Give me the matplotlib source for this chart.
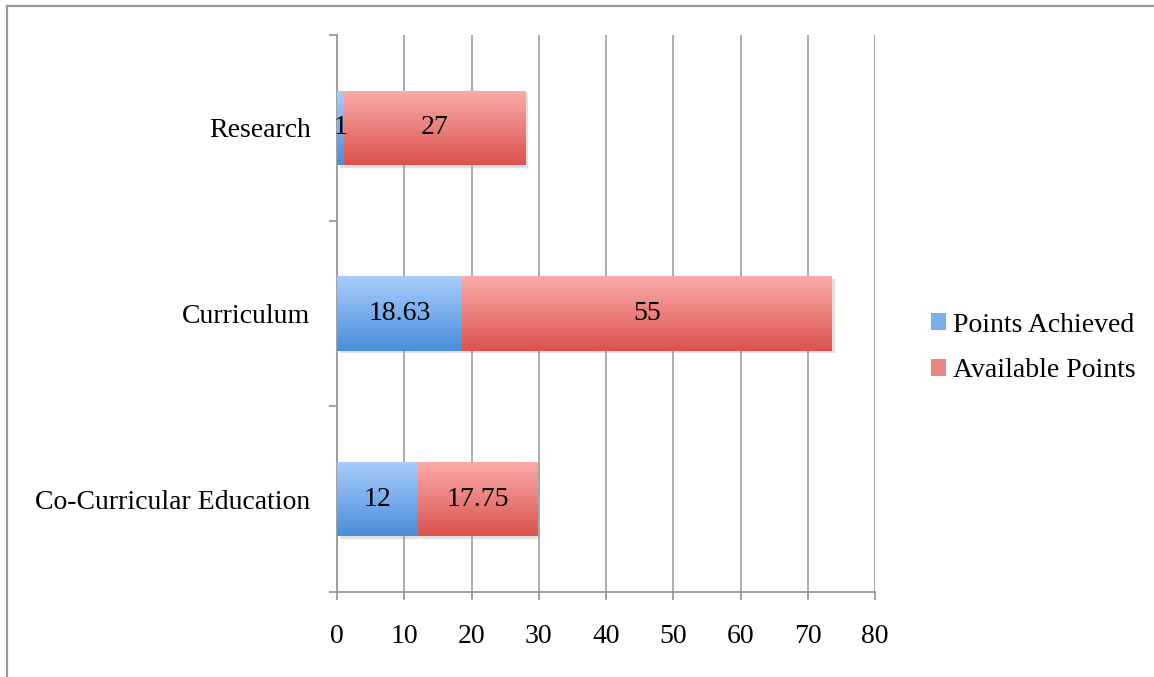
import numpy as np
import matplotlib.pyplot as plt
import matplotlib.patheffects as pe
from matplotlib.colors import LinearSegmentedColormap
from matplotlib.lines import Line2D
from matplotlib.patches import Patch

plt.rcParams['font.family'] = ['Liberation Serif', 'DejaVu Serif']

# datos
categorias = ['Co-Curricular Education', 'Curriculum', 'Research']
puntos_logrados = [12, 18.63, 1]
puntos_disponibles = [17.75, 55, 27]
etiquetas_logrados = ['12', '18.63', '1']
etiquetas_disponibles = ['17.75', '55', '27']
series = ['Points Achieved', 'Available Points']

azul = LinearSegmentedColormap.from_list('azul', ['#4a8edb', '#a9cdfd'])
rojo = LinearSegmentedColormap.from_list('rojo', ['#da534e', '#fcacaa'])

fig = plt.figure(figsize=(11.54, 6.77), dpi=100)
ax = fig.add_axes([337/1154, 1-592/677, 538/1154, 557/677])

# marco exterior
fig.add_artist(Line2D([7/1154, 7/1154], [0, 1-6/677], transform=fig.transFigure, color='#9a9a9a', lw=1.6))
fig.add_artist(Line2D([7/1154, 1], [1-6/677, 1-6/677], transform=fig.transFigure, color='#9a9a9a', lw=1.6))

y = np.arange(len(categorias))
alto = 0.4
sombra = [pe.SimplePatchShadow(offset=(2, -2), shadow_rgbFace='#999999', alpha=0.3), pe.Normal()]

b1 = ax.barh(y, puntos_logrados, height=alto, color='#7aafea', zorder=3, path_effects=sombra)
b2 = ax.barh(y, puntos_disponibles, left=puntos_logrados, height=alto, color='#ec8581', zorder=3, path_effects=sombra)

grad = np.linspace(0, 1, 256).reshape(-1, 1)
for barras, cmap in [(b1, azul), (b2, rojo)]:
    for b in barras:
        x0, y0 = b.get_x(), b.get_y()
        w, h = b.get_width(), b.get_height()
        im = ax.imshow(grad, cmap=cmap, origin='lower', aspect='auto',
                       extent=(x0, x0 + w, y0, y0 + h), zorder=4)
        im.set_clip_path(b)

for barras, etiquetas in [(b1, etiquetas_logrados), (b2, etiquetas_disponibles)]:
    for b, t in zip(barras, etiquetas):
        ax.text(b.get_x() + b.get_width() / 2, b.get_y() + b.get_height() / 2, t,
                ha='center', va='center', fontsize=20, color='black', zorder=5)

ax.set_xlim(0, 80)
ax.set_ylim(-0.5, 2.5)
ax.set_xticks(np.arange(0, 81, 10))
ax.set_yticks(y)
ax.set_yticklabels(categorias)
ax.set_yticks([-0.5, 0.5, 1.5, 2.5], minor=True)
ax.tick_params(axis='y', which='major', length=0, pad=19, labelsize=20)
ax.tick_params(axis='y', which='minor', length=6, width=1.3, color='#9a9a9a')
ax.tick_params(axis='x', length=6, width=1.3, color='#9a9a9a', pad=17, labelsize=20)
ax.grid(axis='x', color='#a6a6a6', lw=1.3, zorder=0)
ax.set_axisbelow(True)
for s in ['top', 'right']:
    ax.spines[s].set_visible(False)
for s in ['left', 'bottom']:
    ax.spines[s].set_color('#9a9a9a')
    ax.spines[s].set_linewidth(1.3)

manijas = [Patch(facecolor='#7aafea'), Patch(facecolor='#ec8581')]
fig.legend(manijas, series, loc='center left', bbox_to_anchor=(906/1154, 1-348/677),
           frameon=False, fontsize=20, handlelength=0.55, handleheight=0.55,
           handletextpad=0.25, labelspacing=0.75)

fig.savefig('out.png', dpi=100)
